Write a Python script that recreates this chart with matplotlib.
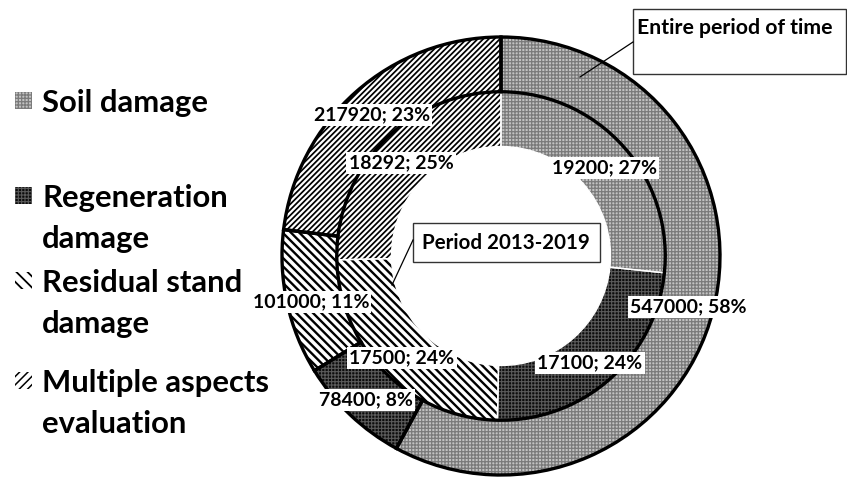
import matplotlib
matplotlib.use('Agg')
import matplotlib.pyplot as plt
from matplotlib.patches import Rectangle
from matplotlib.lines import Line2D
import numpy as np

# data
categories = ['Soil damage', 'Regeneration\ndamage', 'Residual stand\ndamage',
              'Multiple aspects\nevaluation']
entire_period = [547000, 78400, 101000, 217920]      # outer ring
period_2013_2019 = [19200, 17100, 17500, 18292]      # inner ring
outer_title = 'Entire period of time'
inner_title = 'Period 2013-2019'

W, H = 847, 478
plt.rcParams['font.family'] = ['Lato', 'DejaVu Sans']
plt.rcParams['font.weight'] = 'bold'


def fp(x, y):
    # pixel position in the 847x478 canvas -> figure fraction
    return x / W, 1 - y / H


# face colour, hatch, hatch colour, hatch linewidth
styles = [('#c2c2c2', '+++++', '#7a7a7a', 0.9),
          ('#0c0c0c', '+++++', '#5a5a5a', 0.8),
          ('white', '\\\\\\\\', 'black', 1.7),
          ('white', '//////', 'black', 1.25)]


def style_patch(p, st):
    face, hatch, hcol, hlw = st
    p.set_facecolor(face)
    p.set_edgecolor(hcol)
    p.set_linewidth(0)
    p.set_hatch(hatch)
    if hasattr(p, 'set_hatch_linewidth'):
        p.set_hatch_linewidth(hlw)


fig = plt.figure(figsize=(W / 100, H / 100), dpi=100)
R = 219
cx, cy = 501, 256
ax = fig.add_axes([(cx - R) / W, (H - cy - R) / H, 2 * R / W, 2 * R / H])

ring = 0.25
outer, _ = ax.pie(entire_period, radius=1, startangle=90, counterclock=False,
                  wedgeprops=dict(width=ring))
inner, _ = ax.pie(period_2013_2019, radius=1 - ring, startangle=90, counterclock=False,
                  wedgeprops=dict(width=ring))
for w, st in zip(outer, styles):
    style_patch(w, st)
for w, st in zip(inner, styles):
    style_patch(w, st)

# outlines: black for the outer series, thin white for the inner one
ax.pie(period_2013_2019, radius=1 - ring, startangle=90, counterclock=False,
       wedgeprops=dict(width=ring, fill=False, edgecolor='white', linewidth=1))
ax.pie(entire_period, radius=1, startangle=90, counterclock=False,
       wedgeprops=dict(width=ring, fill=False, edgecolor='black', linewidth=2.4))
ax.set_xlim(-1, 1)
ax.set_ylim(-1, 1)
ax.axis('off')
for p in ax.patches:
    p.set_clip_on(False)

# data labels (positions moved by hand in the original)
lab_kw = dict(fontsize=14, fontweight='bold', ha='center', va='center',
              bbox=dict(facecolor='white', edgecolor='none', pad=1.5))
outer_pos = [(688, 307), (366, 400), (311, 302), (372, 115)]
inner_pos = [(604, 168), (590, 363), (402, 358), (401, 163)]
for vals, pos in ((entire_period, outer_pos), (period_2013_2019, inner_pos)):
    tot = sum(vals)
    for v, (x, y) in zip(vals, pos):
        fig.text(*fp(x, y), f"{v}; {round(100 * v / tot)}%", **lab_kw)

# series name boxes with leader lines
fig.add_artist(Line2D(*zip(fp(633, 42), fp(580, 77)), color='black', lw=0.9))
fig.add_artist(Line2D(*zip(fp(413, 240), fp(392, 285)), color='black', lw=0.9))
x0, y0 = fp(633, 74)
x1, y1 = fp(846, 9)
fig.add_artist(Rectangle((x0, y0), x1 - x0, y1 - y0, facecolor='white',
                         edgecolor='#333333', lw=1.0, transform=fig.transFigure))
fig.text(*fp(637, 28), outer_title, fontsize=15.3, fontweight='bold',
         ha='left', va='center')
x0, y0 = fp(413, 262)
x1, y1 = fp(600, 223)
fig.add_artist(Rectangle((x0, y0), x1 - x0, y1 - y0, facecolor='white',
                         edgecolor='#333333', lw=1.0, transform=fig.transFigure))
fig.text(*fp(506, 243), inner_title, fontsize=14.8, fontweight='bold',
         ha='center', va='center')

# legend on the left
first_baseline = [112, 207, 292, 392]
line_step = 41
leg_styles = [styles[0], styles[1], ('white', '\\\\\\', 'black', 1.3),
              ('white', '////', 'black', 1.1)]
for cat, st, yb in zip(categories, leg_styles, first_baseline):
    mx, my = fp(15, yb - 3)
    sq = Rectangle((mx, my), 17 / W, 17 / H, transform=fig.transFigure)
    style_patch(sq, st)
    fig.add_artist(sq)
    for i, line in enumerate(cat.split('\n')):
        fig.text(*fp(42, yb + i * line_step), line, fontsize=22.3,
                 fontweight='bold', ha='left', va='baseline')

fig.savefig('out.png', dpi=100)
